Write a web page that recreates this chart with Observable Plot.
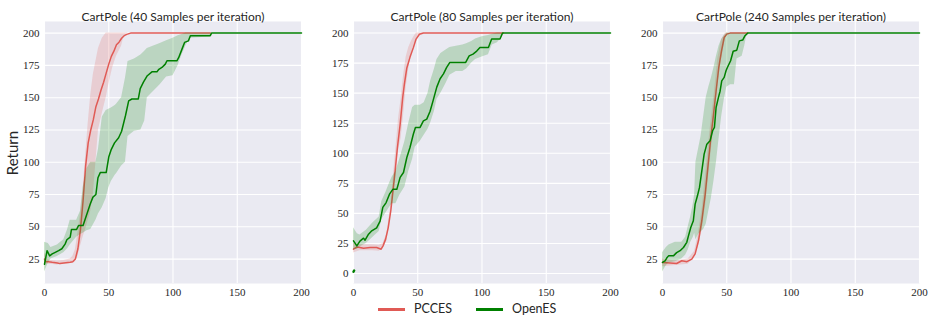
<!DOCTYPE html>
<html><head><meta charset="utf-8">
<script src="https://cdn.jsdelivr.net/npm/d3@7"></script>
<script src="https://cdn.jsdelivr.net/npm/@observablehq/plot@0.6"></script>
<style>
body{margin:0;background:#fff;}
#fig{position:relative;width:934px;height:327px;overflow:hidden;font-family:Lato, "Open Sans", sans-serif;color:#262626;}
.panel{position:absolute;top:0;}
.panel g[aria-label$="tick label"], .panel g[aria-label$="tick label"] text{font-family:"Liberation Serif", "Times New Roman", serif !important;font-size:11px !important;}
#ylab{position:absolute;left:12px;top:153px;transform:translate(-50%,-50%) rotate(-90deg);font-size:15px;white-space:nowrap;}
.lgline{position:absolute;height:2.5px;width:27px;}
.lgtext{position:absolute;font-size:12.5px;line-height:14px;}
</style>
</head><body>
<div id="fig">
  <div id="ylab">Return</div>
  <div class="lgline" style="left:378px;top:308px;background:#e05a55"></div>
  <div class="lgtext" style="left:414px;top:302px">PCCES</div>
  <div class="lgline" style="left:476px;top:308px;background:#008000"></div>
  <div class="lgtext" style="left:512px;top:302px">OpenES</div>
</div>
<script>
// ---------- shared ----------
const seriesNames = ["PCCES", "OpenES"];
const titles = ["CartPole (40 Samples per iteration)", "CartPole (80 Samples per iteration)", "CartPole (240 Samples per iteration)"];
const xTicks = [0, 50, 100, 150, 200];
const yTicks13 = [25, 50, 75, 100, 125, 150, 175, 200];
const yTicks2 = [0, 25, 50, 75, 100, 125, 150, 175, 200];

// ---------- panel 1 (40 samples) ----------
const p1PccesX = [0,1,3,6,10,12,15,20,22,24,26,28,30,32,34,36,38,40,42,44,46,48,50,52,54,56,58,60,62,64,67,129];
const p1PccesMean = [25,23,23,22.5,22,21.5,22,22.5,23,25,33,48,70,97,115,125,133,143,149,156,162,169,176,182,186,191,193,196,198,199,200,200];
const p1PccesBandX = [0,2,5,10,15,20,22,24,26,28,30,32,34,36,38,40,42,45,48,50,53,56,58,60,62,65,129];
const p1PccesHi = [30,25,24,23.5,24,25,27,32,45,60,78,105,130,152,168,178,188,196,200,200,200,200,200,200,200,200,200];
const p1PccesLo = [20,21,21,20.5,21,21.5,22,23,27,35,42,48,55,62,75,100,125,138,150,160,173,182,186,190,198,200,200];

const p1OpenX = [0,2,4,6,8,11,13.5,16,17.4,20,21,25,26.5,30,33,35.6,37.7,40,41.6,43.4,48,50,52,54.5,57.7,60,63,65.5,68,73,74.5,77,80,83.6,87.5,89,91.4,94,95.3,103,104.4,107,109,112,113.5,129,130,200];
const p1OpenMean = [21,31.5,27.5,29,30,31.5,33,36.6,40,42,48,48,51,51,60,67.6,73,75,88,92,92,104,110,115,119,124,136,147.6,149,149,157,162,167,170,170,172,173.4,176,178.6,178.6,181,187.6,192.8,194,198,198,200,200];
const p1OpenBandX = [0,3,5,10,15,18,20,25,28,30,33,36,40,42,45,48,50,52,55,56,60,63,65,70,75,78,80,85,90,95,100,104,107,110,113,129,130,200];
const p1OpenHi = [38,37,34,36,40,48,55,55,62,80,95,100,100,110,135,140,141,142,144,145,150,165,178,180,183,186,188,190,192,194,196,198,199,200,200,200,200,200];
const p1OpenLo = [15,22,25,27,30,33,36,42,44,45,47,48,55,60,65,72,80,85,90,91,97,100,120,124,125,132,150,155,160,166,167,175,183,190,196,197,200,200];

// ---------- panel 2 (80 samples) ----------
const p2PccesX = [0,2.6,5,7.8,13,18,21.5,23,25,27,29,30.6,32.4,34.2,36.3,38.3,39.6,41.5,44,46.6,48.7,51.3,54.4,116.6];
const p2PccesMean = [20.2,22,21.6,21,21.6,21.6,20.2,23,28.6,38,52,67.4,85.4,105,124,146.5,157.6,171,180,188,195,199,200,200];
const p2PccesBandX = [0,5,10,15,20,23,26,29,32,35,37,39,41,43,45,47,49,52,55,116.6];
const p2PccesHi = [25,24,24,24,23.5,25,33,56,92,128,145,165,180,188,193,197,200,200,200,200];
const p2PccesLo = [17,19,19,19,18.5,21,27,48,80,102,112,132,155,170,183,190,195,199,200,200];

const p2OpenX = [0,2.6,5,7.8,9,11.7,14.2,18,20.7,22.8,25.4,28,30.6,33.7,36.3,38.9,41.5,44,46.6,48.2,51.8,54.4,57,59.6,62,64.8,67.4,70,72.5,75,87.3,90,93,95.9,98.4,105,107.5,114,116,200];
const p2OpenMean = [27.2,23,27,29.4,27.7,32.7,35.5,38,43.6,55,59,66,70,70,80,84,96.5,105,116,121.5,121.5,127,128.4,135,144,155,162,166,171.4,175.6,175.6,181,182.5,185,188,188,195,195,200,200];
const p2OpenBandX = [0,3,5,10,15,20,22,25,28,30,33,36,40,43,46,48,52,55,58,60,63,65,68,72,75,80,85,88,92,95,100,105,108,112,116,117,200];
const p2OpenHi = [38,33,32,36,42,47,60,67,75,80,85,95,110,125,138,140,140,142,150,160,170,178,183,186,188,189,190,191,193,195,197,198,199,200,200,200,200];
const p2OpenLo = [20,20,22,25,30,35,45,50,55,58,58,65,72,85,95,105,110,115,120,125,135,145,150,158,165,168,168,170,175,178,180,182,190,192,197,200,200];
const p2OpenStrayX = [0, 0.5];
const p2OpenStrayY = [1.5, 2.5];

// ---------- panel 3 (240 samples) ----------
const p3PccesX = [0,6,11,15,19,22.8,25.4,28,30.6,33.2,35.8,37.6,39.7,41.7,43.8,45.9,48,50,52.6,66.3];
const p3PccesMean = [22.4,22,21.6,23.7,23,25,29,39.2,54.7,75,101,119,137,155,173.4,186,196.6,199.2,200,200];
const p3PccesBandX = [0,10,20,25,28,31,34,37,40,43,46,49,52,66.3];
const p3PccesHi = [25,23.5,25,31,45,65,95,125,150,180,195,200,200,200];
const p3PccesLo = [19,20,21,27,35,48,70,100,128,160,180,196,200,200];

const p3OpenX = [0,2,3.4,4.7,8.5,11,13.7,16.3,18.9,20.2,22,24,25.4,27.2,28.8,30.6,32.4,34.5,37,39,40.4,41.7,43.5,44.8,46.1,48,49.5,50.5,53,55,57.8,59.8,62.4,64.2,66.3,200];
const p3OpenMean = [22.4,23.7,26,27.5,27.5,30,31.5,34,38,43,49.5,54.7,67.6,74,80.5,93.4,106.3,114,116.6,124.4,127,142.4,150,155,163,165.7,171,173.4,178.6,186,186.8,194,194.6,198,200,200];
const p3OpenBandX = [0,3,5,10,15,18,20,22,24,25,26,28,30,32,34,36,38,40,42,44,46,48,50,53,56,58,62,64,66,200];
const p3OpenHi = [30,34,36,38,38,42,50,58,68,75,100,110,120,135,150,158,165,173,182,190,195,198,200,200,200,200,200,200,200,200];
const p3OpenLo = [15,20,22,23,25,28,32,38,42,45,40,44,46,48,52,62,72,85,100,118,135,148,158,160,160,180,182,190,200,200];

// ---------- drawing ----------
const colors = {PCCES: "#e05a55", OpenES: "#008000"};
const line = (xs, ys) => xs.map((x, i) => ({x, y: ys[i]}));
const band = (xs, lo, hi) => xs.map((x, i) => ({x, lo: lo[i], hi: hi[i]}));
const tickFont = {fontFamily: "Liberation Serif", fontSize: 11, fill: "#262626"};

const panels = [
  {left: 0, width: 310, ml: 44, mr: 9, yDomain: [6.1, 209], yTicks: yTicks13, title: titles[0],
   pm: line(p1PccesX, p1PccesMean), pb: band(p1PccesBandX, p1PccesLo, p1PccesHi),
   om: line(p1OpenX, p1OpenMean), ob: band(p1OpenBandX, p1OpenLo, p1OpenHi)},
  {left: 310, width: 310, ml: 43, mr: 10, yDomain: [-8.3, 209.6], yTicks: yTicks2, title: titles[1],
   pm: line(p2PccesX, p2PccesMean), pb: band(p2PccesBandX, p2PccesLo, p2PccesHi),
   om: line(p2OpenX, p2OpenMean), ob: band(p2OpenBandX, p2OpenLo, p2OpenHi),
   stray: line(p2OpenStrayX, p2OpenStrayY)},
  {left: 620, width: 314, ml: 42, mr: 15, yDomain: [6.1, 209], yTicks: yTicks13, title: titles[2],
   pm: line(p3PccesX, p3PccesMean), pb: band(p3PccesBandX, p3PccesLo, p3PccesHi),
   om: line(p3OpenX, p3OpenMean), ob: band(p3OpenBandX, p3OpenLo, p3OpenHi)}
];

const fig = document.getElementById("fig");
for (const p of panels) {
  const marks = [
    Plot.frame({fill: "#eaeaf2", stroke: null}),
    Plot.gridX(xTicks, {stroke: "white", strokeOpacity: 1, strokeWidth: 1.1}),
    Plot.gridY(p.yTicks, {stroke: "white", strokeOpacity: 1, strokeWidth: 1.1}),
    Plot.axisX(xTicks, {tickSize: 0, tickPadding: 5, label: null, ...tickFont}),
    Plot.axisY(p.yTicks, {tickSize: 0, tickPadding: 5, label: null, ...tickFont}),
    Plot.areaY(p.pb, {x: "x", y1: "lo", y2: "hi", fill: colors.PCCES, fillOpacity: 0.2}),
    Plot.line(p.pm, {x: "x", y: "y", stroke: colors.PCCES, strokeWidth: 1.5}),
    Plot.areaY(p.ob, {x: "x", y1: "lo", y2: "hi", fill: colors.OpenES, fillOpacity: 0.2}),
    Plot.line(p.om, {x: "x", y: "y", stroke: colors.OpenES, strokeWidth: 1.5}),
    Plot.text([p.title], {frameAnchor: "top", dy: -9, fontFamily: "Lato, sans-serif", fontSize: 12, fill: "#262626"})
  ];
  if (p.stray) marks.push(Plot.line(p.stray, {x: "x", y: "y", stroke: colors.OpenES, strokeWidth: 2.5}));
  const chart = Plot.plot({
    width: p.width, height: 300,
    marginLeft: p.ml, marginRight: p.mr, marginTop: 21, marginBottom: 17,
    style: {background: "transparent", color: "#262626", overflow: "visible"},
    x: {domain: [0, 200]},
    y: {domain: p.yDomain},
    marks
  });
  chart.classList.add("panel");
  chart.style.left = p.left + "px";
  chart.querySelectorAll('g[aria-label$="tick label"] text').forEach(t => t.setAttribute("font-family", "Liberation Serif"));
  fig.appendChild(chart);
}
</script>
</body></html>
